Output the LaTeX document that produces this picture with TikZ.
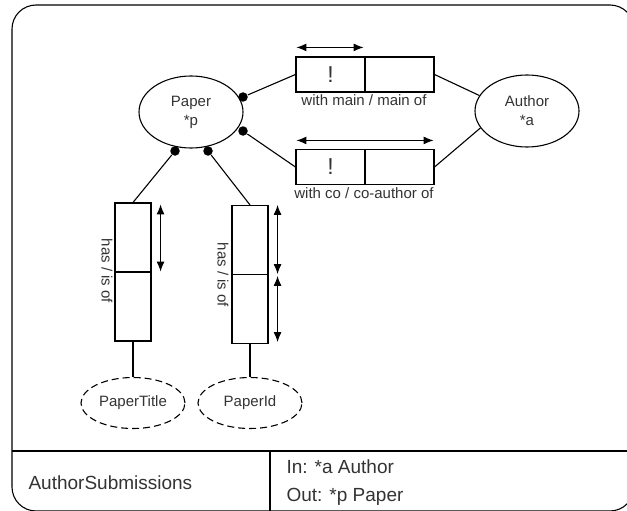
\documentclass[tikz,border=0pt]{standalone}
\usepackage{fontspec}
\setmainfont{Liberation Sans}
\usetikzlibrary{shapes.geometric,arrows.meta}
\begin{document}
\begin{tikzpicture}[x=1pt,y=-1pt,line width=1.1pt]
    \tikzset{entite/.style={draw, ellipse, minimum width=104pt, minimum height=72pt, inner sep=0pt, align=center, text=black!80, font=\fontsize{15}{19}\selectfont}}
    \tikzset{valeur/.style={entite, dash pattern=on 7pt off 4pt, minimum height=51pt}}
    \tikzset{role/.style={draw, rectangle, minimum width=69pt, minimum height=35pt, inner sep=0pt, text=black!80, font=\fontsize{23}{23}\selectfont}}
    \tikzset{rolev/.style={draw, rectangle, minimum width=36pt, minimum height=69pt, inner sep=0pt}}
    \tikzset{pastille/.style={circle, fill=black, inner sep=0pt, minimum size=9.5pt}}
    \tikzset{etiq/.style={inner sep=0pt, text=black!80, font=\fontsize{15}{18}\selectfont}}
    \tikzset{unique/.style={{Latex[length=10pt,width=8pt]}-{Latex[length=10pt,width=8pt]}}}
    \useasboundingbox (0,0) rectangle (627,511);
    % cadre
    \draw[rounded corners=24pt] (12,5) rectangle (634,511);
    \draw (12,451) -- (634,451);
    \draw (270,451) -- (270,511);
    \node[anchor=west, inner sep=0pt, text=black!80, font=\fontsize{19}{23}\selectfont] (nom) at (28,483) {AuthorSubmissions};
    \node[anchor=west, inner sep=0pt, align=left, text=black!80, font=\fontsize{19}{28}\selectfont] (io) at (286,483) {In: *a Author\\Out: *p Paper};
    % objets
    \node[entite] (Paper) at (191,112) {Paper\\*p};
    \node[entite] (Author) at (527,111) {Author\\*a};
    \node[valeur] (PaperTitle) at (133,403) {PaperTitle};
    \node[valeur] (PaperId) at (250,403) {PaperId};
    % roles
    \node[role] (m1) at (330.5,74.5) {!};
    \node[role] (m2) at (399.5,74.5) {};
    \node[role] (c1) at (330.5,167) {!};
    \node[role] (c2) at (399.5,167) {};
    \node[rolev] (t1) at (133,237.5) {};
    \node[rolev] (t2) at (133,306.5) {};
    \node[rolev] (i1) at (250,240) {};
    \node[rolev] (i2) at (250,309) {};
    \node[etiq] (lm) at (364,100) {with main / main of};
    \node[etiq] (lc) at (364,193) {with co / co-author of};
    \node[etiq, rotate=-90] (lt) at (107,271) {has / is of};
    \node[etiq, rotate=-90] (li) at (223,275) {has / is of};
    % pastilles
    \node[pastille] (d1) at (243,97) {};
    \node[pastille] (d2) at (243,131) {};
    \node[pastille] (d3) at (175,151) {};
    \node[pastille] (d4) at (208,151) {};
    % liens
    \draw (d1) -- (m1.west);
    \draw (d2) -- (c1.west);
    \draw (m2.east) -- (Author.162);
    \draw (c2.east) -- (Author.200);
    \draw (d3) -- (t1.north);
    \draw (d4) -- (i1.north);
    \draw (t2.south) -- (PaperTitle);
    \draw (i2.south) -- (PaperId);
    % unicite
    \draw[unique] ([shift={(1,-9)}]m1.north west) -- ([shift={(-2,-9)}]m1.north east);
    \draw[unique] ([shift={(1,-8.5)}]c1.north west) -- ([shift={(-1,-8.5)}]c2.north east);
    \draw[unique] ([shift={(9,2)}]t1.north east) -- ([shift={(9,-1)}]t1.south east);
    \draw[unique] ([shift={(9,0)}]i1.north east) -- ([shift={(9,-1)}]i1.south east);
    \draw[unique] ([shift={(9,2)}]i2.north east) -- ([shift={(9,-2)}]i2.south east);
\end{tikzpicture}
\end{document}
